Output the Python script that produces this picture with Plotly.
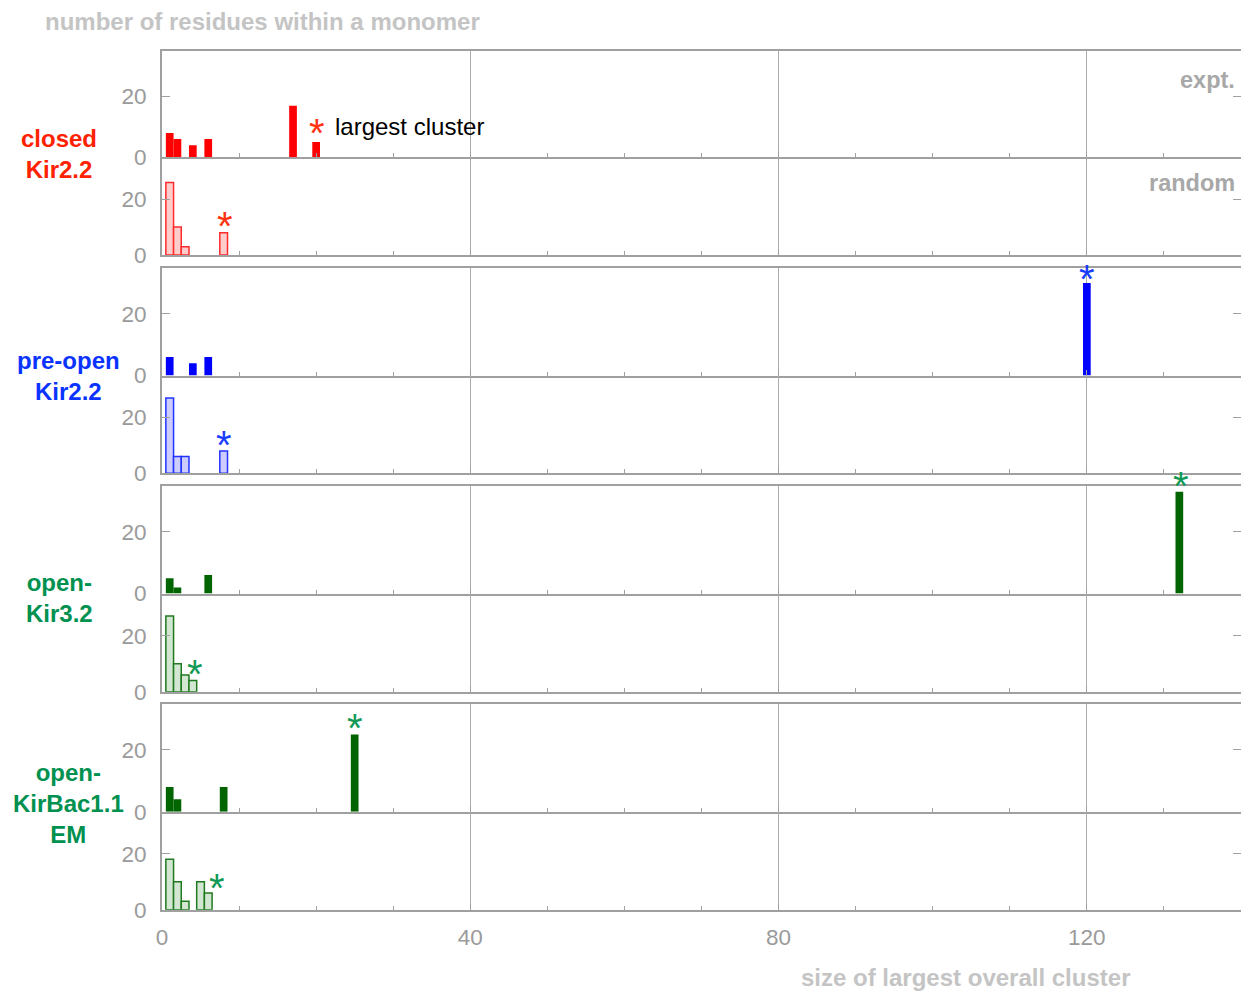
import plotly.graph_objects as go

# ---------------- data ----------------
closed_expt_x = [1, 2, 4, 6, 17, 20]
closed_expt_y = [8, 6, 4, 6, 17, 5]
closed_rand_x = [1, 2, 3, 8]
closed_rand_y = [26, 10, 3, 8]

preopen_expt_x = [1, 4, 6, 120]
preopen_expt_y = [6, 4, 6, 30]
preopen_rand_x = [1, 2, 3, 8]
preopen_rand_y = [27, 6, 6, 8]

kir32_expt_x = [1, 2, 6, 132]
kir32_expt_y = [5, 2, 6, 33]
kir32_rand_x = [1, 2, 3, 4]
kir32_rand_y = [27, 10, 6, 4]

kirbac_expt_x = [1, 2, 8, 25]
kirbac_expt_y = [8, 4, 8, 25]
kirbac_rand_x = [1, 2, 3, 5, 6]
kirbac_rand_y = [18, 10, 3, 10, 6]

# largest-cluster star positions (x, y) per panel
star_x = [20.1, 8.2, 120, 8.1, 132.2, 4.3, 25.0, 7.1]
star_y = [9.5, 12.1, 33.0, 12.1, 36.6, 8.1, 28.7, 9.4]

x_ticks = [0, 40, 80, 120]
y_ticks = [0, 20]
Y_MAX = 35

group_labels = ["closed<br>Kir2.2", "pre-open<br>Kir2.2", "open-<br>Kir3.2", "open-<br>KirBac1.1<br>EM"]

# ---------------- styling ----------------
W, H = 1241, 993
FONT = "Liberation Sans"
AX = "#a0a0a0"
TICKC = "#9a9a9a"

RED, BLUE, GREEN = "#ff0000", "#0000ff", "#006400"
star_colors = ["#ff3311", "#ff3311", "#1a3cff", "#1a3cff", "#119955", "#119955", "#119955", "#119955"]
label_colors = ["#ff2200", "#0a33ff", "#009150", "#009150"]

panels = [
    (closed_expt_x, closed_expt_y, dict(color=RED, line=dict(width=0))),
    (closed_rand_x, closed_rand_y, dict(color="#ffcccc", line=dict(color="#ff2a2a", width=1.5))),
    (preopen_expt_x, preopen_expt_y, dict(color=BLUE, line=dict(width=0))),
    (preopen_rand_x, preopen_rand_y, dict(color="#ccccff", line=dict(color="#2233ff", width=1.5))),
    (kir32_expt_x, kir32_expt_y, dict(color=GREEN, line=dict(width=0))),
    (kir32_rand_x, kir32_rand_y, dict(color="#d2e6d2", line=dict(color="#1f7a1f", width=1.5))),
    (kirbac_expt_x, kirbac_expt_y, dict(color=GREEN, line=dict(width=0))),
    (kirbac_rand_x, kirbac_rand_y, dict(color="#d2e6d2", line=dict(color="#1f7a1f", width=1.5))),
]

# pixel extents of each panel (top, bottom)
panel_px = [(51, 157.3), (157.3, 255), (267.5, 375.6), (375.6, 473.3),
            (485.7, 593.6), (593.6, 691.7), (703.5, 811.7), (811.7, 909.7)]

X0 = 162 / W
STAR_SHIFT = -5

fig = go.Figure()
layout = dict(
    width=W, height=H, margin=dict(l=0, r=0, t=0, b=0, autoexpand=False),
    paper_bgcolor="white", plot_bgcolor="white", showlegend=False,
    font=dict(family=FONT),
)
ann = []

for i, ((xs, ys, mk), (top, bot)) in enumerate(zip(panels, panel_px), start=1):
    xa = "x" if i == 1 else f"x{i}"
    ya = "y" if i == 1 else f"y{i}"
    is_expt = (i % 2 == 1)
    fig.add_trace(go.Bar(x=xs, y=ys, width=1, marker=mk, xaxis=xa, yaxis=ya,
                         hoverinfo="skip"))
    # right-side mirror ticks (no line)
    yr = f"y{i + 8}"
    fig.add_trace(go.Scatter(x=[None], y=[None], xaxis=xa, yaxis=yr, showlegend=False,
                             hoverinfo="skip"))
    # star: annotations outside the axis range are hidden, so clamp and shift in pixels
    px_per_unit = (bot - top) / Y_MAX
    sy = star_y[i - 1]
    extra = max(0.0, sy - Y_MAX) * px_per_unit
    ann.append(dict(text="*", x=star_x[i - 1], y=min(sy, Y_MAX), xref=xa, yref=ya,
                    xanchor="center", yanchor="middle", yshift=STAR_SHIFT + extra,
                    showarrow=False,
                    font=dict(family=FONT, size=40, color=star_colors[i - 1])))

    dom = [1 - bot / H, 1 - top / H]
    layout[f"xaxis{'' if i == 1 else i}"] = dict(
        domain=[X0, 1.0], range=[0, 140], anchor=ya, automargin=False,
        showline=True, linecolor=AX, linewidth=2, mirror=is_expt,
        tickvals=x_ticks, ticks="inside", ticklen=6, tickcolor=AX, tickwidth=1,
        showgrid=True, gridcolor="#ababab", gridwidth=1, zeroline=False,
        minor=dict(dtick=10, tick0=0, ticks="inside", ticklen=4, tickcolor=AX, showgrid=False),
        showticklabels=(i == 8),
        tickfont=dict(family=FONT, size=22.5, color=TICKC),
        ticklabelstandoff=6,
    )
    layout[f"yaxis{'' if i == 1 else i}"] = dict(
        domain=dom, range=[0, Y_MAX], anchor=xa, automargin=False,
        showline=True, linecolor=AX, linewidth=2,
        tickvals=y_ticks, ticks="inside", ticklen=8, tickcolor=AX, tickwidth=1,
        showgrid=False, zeroline=False,
        tickfont=dict(family=FONT, size=22.5, color=TICKC),
        ticklabelstandoff=9,
    )
    layout[f"yaxis{i + 8}"] = dict(
        domain=dom, range=[0, Y_MAX], anchor=xa, overlaying=ya, side="right", automargin=False,
        showline=False, tickvals=y_ticks, ticks="inside", ticklen=8, tickcolor=AX,
        showticklabels=False, showgrid=False, zeroline=False,
    )

ann.append(dict(text="<b>number of residues within a monomer</b>", x=43 / W, y=1 - 22 / H,
                xref="paper", yref="paper", xanchor="left", yanchor="middle", showarrow=False,
                font=dict(family=FONT, size=24, color="#c4c4c4")))
ann.append(dict(text="<b>size of largest overall cluster</b>", x=965 / W, y=1 - 977 / H,
                xref="paper", yref="paper", xanchor="center", yanchor="middle", showarrow=False,
                font=dict(family=FONT, size=24, color="#c4c4c4")))
ann.append(dict(text="<b>expt.</b>", x=1237 / W, y=1 - 80 / H, xref="paper", yref="paper",
                xanchor="right", yanchor="middle", showarrow=False,
                font=dict(family=FONT, size=23.5, color="#a8a8a8")))
ann.append(dict(text="<b>random</b>", x=1237 / W, y=1 - 183 / H, xref="paper", yref="paper",
                xanchor="right", yanchor="middle", showarrow=False,
                font=dict(family=FONT, size=23.5, color="#a8a8a8")))
ann.append(dict(text="largest cluster", x=333 / W, y=1 - 127 / H, xref="paper", yref="paper",
                xanchor="left", yanchor="middle", showarrow=False,
                font=dict(family=FONT, size=24, color="black")))

label_pos = [(59, 154.5), (68, 376), (59, 598), (68, 803)]
for txt, (lx, ly), col in zip(group_labels, label_pos, label_colors):
    ann.append(dict(text=f"<b>{txt}</b>", x=lx / W, y=1 - ly / H, xref="paper", yref="paper",
                    xanchor="center", yanchor="middle", showarrow=False, align="center",
                    font=dict(family=FONT, size=24, color=col)))

layout["annotations"] = ann
fig.update_layout(**layout)
fig.write_html("out.html")
